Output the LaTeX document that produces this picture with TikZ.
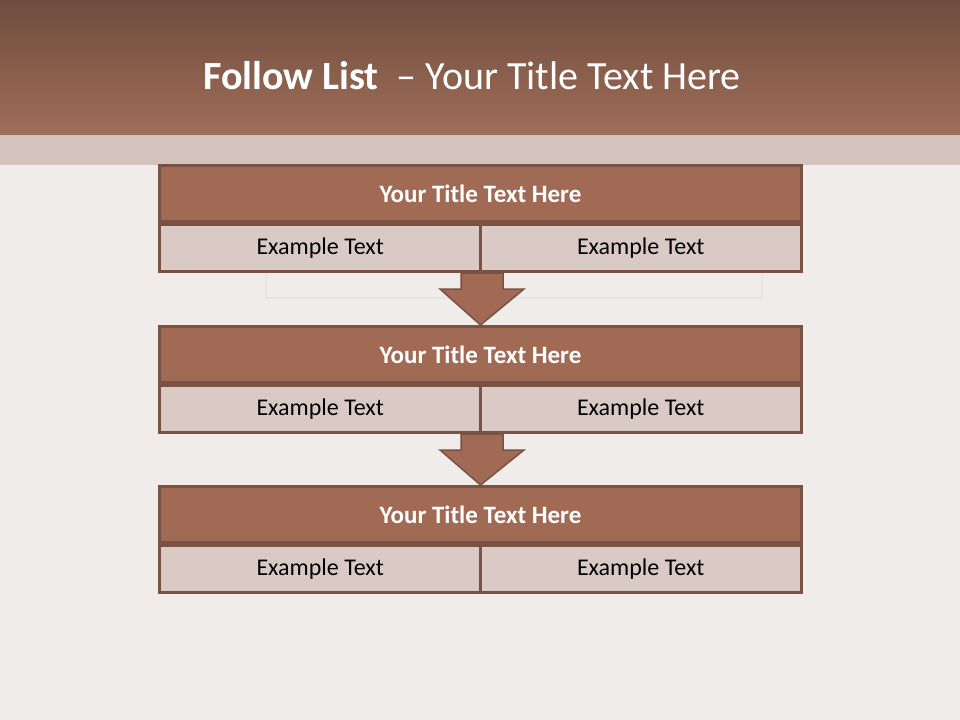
\documentclass[tikz,border=0pt]{standalone}
\usepackage{fontspec}
\setmainfont{Carlito}
\usetikzlibrary{positioning, calc}

\definecolor{barTop}{HTML}{6F4C3E}
\definecolor{barBottom}{HTML}{A06E58}
\definecolor{bandPink}{HTML}{D4C3BD}
\definecolor{pageBg}{HTML}{F0ECE9}
\definecolor{headFill}{HTML}{A06A55}
\definecolor{cellFill}{HTML}{D9CAC6}
\definecolor{edgeBrown}{HTML}{7A5244}

\begin{document}
\begin{tikzpicture}[
  x=1bp, y=-1bp,
  head/.style={draw=edgeBrown, fill=headFill, line width=3bp, minimum width=641bp, minimum height=56bp,
    inner sep=0pt, text=white, font=\fontsize{25bp}{30bp}\selectfont\bfseries},
  cell/.style={draw=edgeBrown, fill=cellFill, line width=3bp, minimum width=320.5bp, minimum height=47bp,
    inner sep=0pt, text=black, font=\fontsize{24bp}{29bp}\selectfont},
  flowarrow/.style={draw=edgeBrown, fill=headFill, line width=1.5bp, line join=miter}
]
  % page and title bar
  \useasboundingbox (0,0) rectangle (960,720);
  \fill[pageBg] (0,0) rectangle (960,720);
  \shade[top color=barTop, bottom color=barBottom] (0,0) rectangle (960,135);
  \fill[bandPink] (0,135) rectangle (960,165);
  \draw[draw=black!10, line width=1.5bp] (266,165) -- (266,298) -- (762,298) -- (762,165);
  \node[text=white, font=\fontsize{40bp}{48bp}\selectfont] (title) at (472,76)
    {\textbf{Follow List}\ \ -- Your Title Text Here};

  % first box
  \node[head] (title1) at (480.5,193.5) {Your Title Text Here};
  \node[cell, anchor=north west] (left1) at (title1.south west) {Example Text};
  \node[cell, anchor=north east] (right1) at (title1.south east) {Example Text};

  % second box
  \node[head] (title2) at (480.5,354.5) {Your Title Text Here};
  \node[cell, anchor=north west] (left2) at (title2.south west) {Example Text};
  \node[cell, anchor=north east] (right2) at (title2.south east) {Example Text};

  % third box
  \node[head] (title3) at (480.5,514.5) {Your Title Text Here};
  \node[cell, anchor=north west] (left3) at (title3.south west) {Example Text};
  \node[cell, anchor=north east] (right3) at (title3.south east) {Example Text};

  % arrows between boxes
  \draw[flowarrow] ($(left1.south east)+(-21,0)$) -- ++(0,16) -- ++(-21,0)
    -- (title2.north) -- ($(left1.south east)+(42,16)$) -- ++(-21,0) -- ++(0,-16) -- cycle;
  \draw[flowarrow] ($(left2.south east)+(-21,0)$) -- ++(0,16) -- ++(-21,0)
    -- (title3.north) -- ($(left2.south east)+(42,16)$) -- ++(-21,0) -- ++(0,-16) -- cycle;
\end{tikzpicture}
\end{document}
